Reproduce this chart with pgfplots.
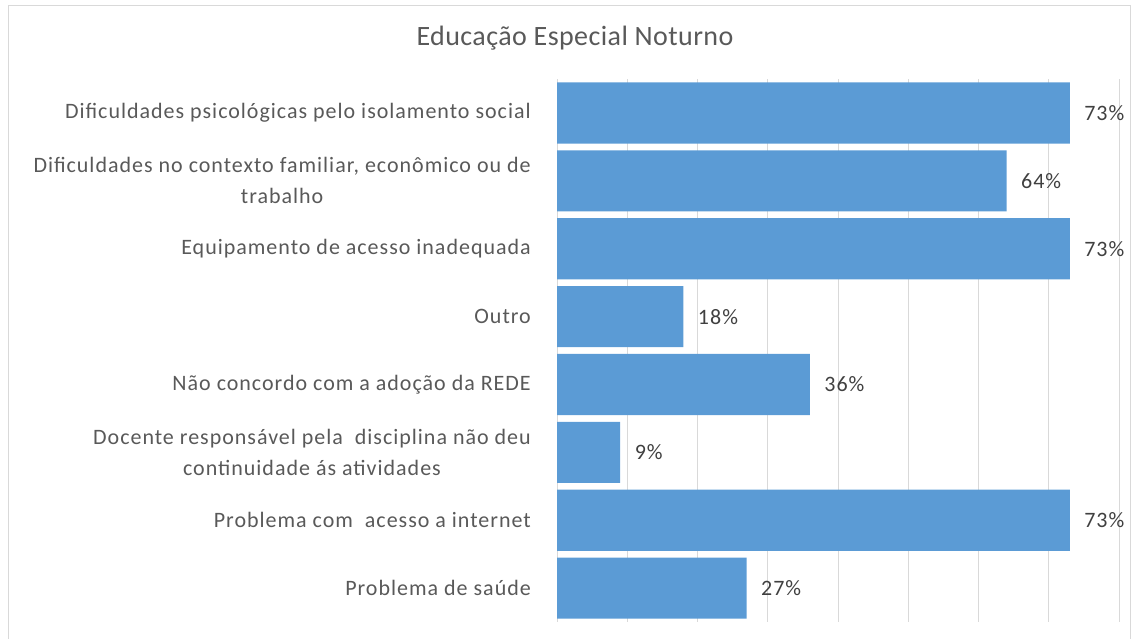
\documentclass[border=0pt]{standalone}
\usepackage{pgfplots}
\pgfplotsset{compat=1.18}
\usepackage{fontspec}
\setmainfont{Carlito}
\newfontfamily\lblfont[LetterSpace=4.5]{Carlito}
\newfontfamily\titlefont[LetterSpace=1.5]{Carlito}
\definecolor{barblue}{HTML}{5B9BD5}
\definecolor{gridgray}{HTML}{D9D9D9}
\definecolor{txtgray}{HTML}{595959}
\definecolor{lblgray}{HTML}{404040}
\begin{document}
\begin{tikzpicture}
\useasboundingbox (0pt,0pt) rectangle (1135pt,-638pt);
\draw[gridgray, line width=1pt] (8pt,-640pt) -- (8pt,-5pt) -- (1130pt,-5pt) -- (1130pt,-640pt);
\node[text=txtgray, font=\titlefont\fontsize{28}{33}\selectfont] at (575pt,-38pt) {Educação Especial Noturno};
\begin{axis}[
  at={(557pt,-622pt)}, anchor=south west,
  scale only axis, width=562pt, height=543pt,
  xbar, bar width=0.9,
  xmin=0, xmax=80, xtick={0,10,...,80}, xticklabels={},
  xmajorgrids, grid style={gridgray, line width=1pt},
  ymin=-0.5, ymax=7.5, y dir=reverse, ytick={0,...,7},
  yticklabels={
    Dificuldades psicológicas pelo isolamento social,
    {Dificuldades no contexto familiar, econômico ou de\\trabalho},
    Equipamento de acesso inadequada,
    Outro,
    Não concordo com a adoção da REDE,
    Docente responsável pela\ \ disciplina não deu\\continuidade ás atividades,
    Problema com\ \ acesso a internet,
    Problema de saúde},
  yticklabel style={align=center, font=\lblfont\fontsize{22}{31}\selectfont,
    text=txtgray, inner sep=0pt, xshift=-26pt},
  axis line style={draw=none}, major tick length=0pt,
  /pgf/number format/assume math mode=true,
  nodes near coords={\pgfmathprintnumber{\pgfplotspointmeta}\%},
  nodes near coords style={anchor=west, xshift=11pt, text=lblgray,
    font=\lblfont\fontsize{22}{26}\selectfont},
]
\addplot[fill=barblue, draw=none]
  coordinates {(73,0) (64,1) (73,2) (18,3) (36,4) (9,5) (73,6) (27,7)};
\end{axis}
\end{tikzpicture}
\end{document}
